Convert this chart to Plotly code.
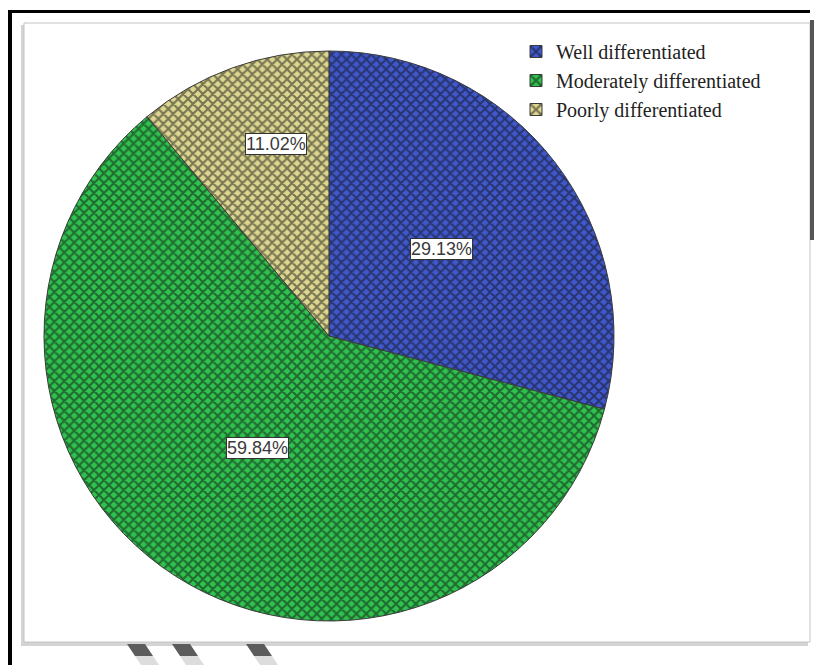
import math
import plotly.graph_objects as go

# ---- data ----
categories = ["Well differentiated", "Moderately differentiated", "Poorly differentiated"]
values = [29.13, 59.84, 11.02]
label_texts = ["29.13%", "59.84%", "11.02%"]

# ---- style ----
W, H = 814, 665
colors = ["#4058cc", "#2fc24e", "#dcd690"]
# per-label radial fraction and angular nudge (degrees) for the SPSS-like label placement
label_r = [0.50, 0.465, 0.70]
label_dang = [0.0, 0.0, 4.5]

# pie geometry in pixels
cx, cy, R = 329, 336, 285
dom_x = [(cx - R) / W, (cx + R) / W]
dom_y = [1 - (cy + R) / H, 1 - (cy - R) / H]

fig = go.Figure(go.Pie(
    labels=categories,
    values=values,
    sort=False,
    direction="clockwise",
    rotation=0,
    textinfo="none",
    hoverinfo="label+percent",
    domain=dict(x=dom_x, y=dom_y),
    marker=dict(
        colors=colors,
        line=dict(color="#3a3a3a", width=1),
        pattern=dict(shape="x", fillmode="overlay", fgcolor="#111111",
                     size=7, solidity=0.5),
    ),
))

# labels with white boxes, positioned from the data angles
total = sum(values)
cum = 0.0
annotations = []
for i, v in enumerate(values):
    mid = (cum + v / 2) / total * 360 + label_dang[i]
    cum += v
    a = math.radians(mid)
    px = cx + label_r[i] * R * math.sin(a)
    py = cy - label_r[i] * R * math.cos(a)
    annotations.append(dict(
        x=px / W, y=1 - py / H, xref="paper", yref="paper",
        xanchor="center", yanchor="middle",
        text=label_texts[i], showarrow=False,
        font=dict(family="Liberation Sans, Arial", size=18, color="#3a3a3a"),
        bgcolor="white", bordercolor="#333333", borderwidth=1, borderpad=0,
    ))

def px_rect(x0, y0, x1, y1, **kw):
    return dict(type="rect", xref="paper", yref="paper",
                x0=x0 / W, x1=x1 / W, y0=1 - y1 / H, y1=1 - y0 / H,
                layer="below", **kw)

shapes = [
    # outer black frame (left and top)
    px_rect(8, 10, 12, 665, fillcolor="black", line=dict(width=0)),
    px_rect(8, 10, 810, 13, fillcolor="black", line=dict(width=0)),
    # inner chart box shadow + box
    px_rect(21, 25, 808, 646, fillcolor="#d4d4d4", line=dict(width=0)),
    px_rect(24, 23, 810, 642, fillcolor="white", line=dict(color="#c4c4c4", width=1)),
    # clipped dark stripe on right edge
    px_rect(810, 20, 814, 240, fillcolor="#555555", line=dict(width=0)),
]
# faint watermark strokes at the bottom (dark head, light tail)
for x0 in [127, 172, 246]:
    shapes.append(dict(type="path", xref="paper", yref="paper", layer="below",
                       path=f"M {x0/W},{1-644/H} L {(x0+18)/W},{1-644/H} L {(x0+26)/W},{1-656/H} L {(x0+8)/W},{1-656/H} Z",
                       fillcolor="#5c5c5c", line=dict(width=0)))
    shapes.append(dict(type="path", xref="paper", yref="paper", layer="below",
                       path=f"M {(x0+8)/W},{1-656/H} L {(x0+26)/W},{1-656/H} L {(x0+32)/W},{1-665/H} L {(x0+14)/W},{1-665/H} Z",
                       fillcolor="#dddddd", line=dict(width=0)))

fig.update_layout(
    width=W, height=H,
    margin=dict(l=0, r=0, t=0, b=0),
    paper_bgcolor="white",
    plot_bgcolor="white",
    showlegend=True,
    legend=dict(
        x=516 / W, y=1 - 32 / H, xanchor="left", yanchor="top",
        bgcolor="rgba(0,0,0,0)",
        font=dict(family="Liberation Serif, Times New Roman", size=20, color="#222222"),
        itemwidth=30, tracegroupgap=0,
    ),
    annotations=annotations,
    shapes=shapes,
)

fig.write_html("out.html")
